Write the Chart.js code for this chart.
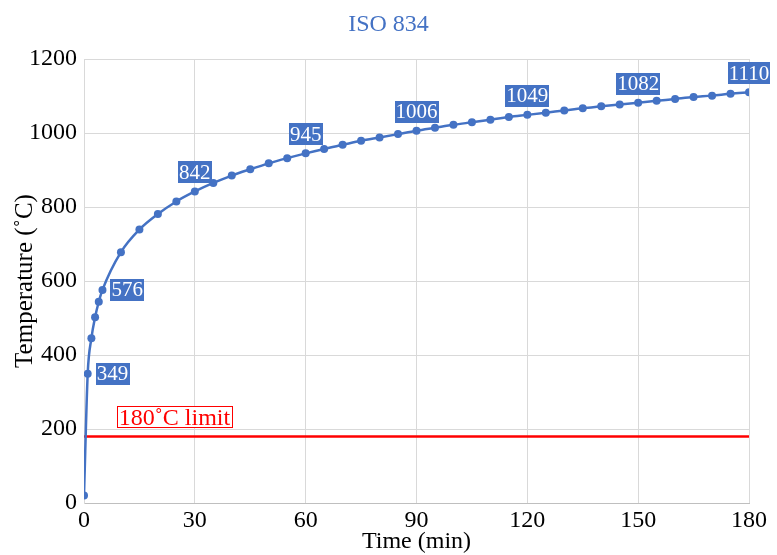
<!DOCTYPE html>
<html>
<head>
<meta charset="utf-8">
<style>
  html, body { margin: 0; padding: 0; background: #ffffff; }
  #wrap { width: 777px; height: 555px; }
</style>
<script src="https://cdn.jsdelivr.net/npm/chart.js@4/dist/chart.umd.min.js"></script>
</head>
<body>
<div id="wrap"><canvas id="chart" width="777" height="555"></canvas></div>
<script>
const chartTitle = "ISO 834";
const times = [0, 1, 2, 3, 4, 5, 10, 15, 20, 25, 30, 35, 40, 45, 50, 55, 60, 65, 70, 75, 80, 85, 90,
  95, 100, 105, 110, 115, 120, 125, 130, 135, 140, 145, 150, 155, 160, 165, 170, 175, 180];
const temps = [20, 349, 445, 502, 544, 576, 678, 739, 781, 815, 842, 865, 885, 902, 918, 932, 945, 957, 968, 979, 988, 997, 1006,
  1014, 1022, 1029, 1036, 1043, 1049, 1055, 1061, 1067, 1072, 1077, 1082, 1087, 1092, 1097, 1101, 1106, 1110];
const labelTimes = [1, 5, 30, 60, 90, 120, 150, 180];
const labelSide = ["right", "right", "top", "top", "top", "top", "top", "top"];
const limitValue = 180;
const limitText = "180˚C limit";
const limitLabelAt = 24.5;
const xTicks = [0, 30, 60, 90, 120, 150, 180];
const yTicks = [0, 200, 400, 600, 800, 1000, 1200];

const BLUE = "#4472c4";
const SERIF = "'Liberation Serif', 'DejaVu Serif', serif";

const labelsPlugin = {
  id: "isoLabels",
  afterDatasetsDraw(chart) {
    const ctx = chart.ctx;
    const xs = chart.scales.x;
    const ys = chart.scales.y;
    ctx.save();
    ctx.textBaseline = "middle";
    ctx.textAlign = "center";

    ctx.font = "21px " + SERIF;
    labelTimes.forEach((t, i) => {
      const idx = times.indexOf(t);
      const px = xs.getPixelForValue(t);
      const py = ys.getPixelForValue(temps[idx]);
      const text = String(temps[idx]);
      const w = ctx.measureText(text).width + 2;
      const h = 22;
      let cx, cy;
      if (labelSide[i] === "right") {
        cx = px + 8 + w / 2;
        cy = py;
      } else {
        cx = px;
        cy = py - 8 - h / 2;
      }
      ctx.fillStyle = BLUE;
      ctx.fillRect(Math.round(cx - w / 2), Math.round(cy - h / 2), Math.round(w), h);
      ctx.fillStyle = "#ffffff";
      ctx.fillText(text, cx, cy + 1);
    });

    // limit label
    ctx.font = "24px " + SERIF;
    const lx = xs.getPixelForValue(limitLabelAt);
    const ly = ys.getPixelForValue(limitValue) - 10 - 10;
    const lw = ctx.measureText(limitText).width + 4;
    const bx = Math.round(lx - lw / 2) + 0.5;
    const by = Math.round(ly - 10) + 0.5;
    ctx.fillStyle = "#ffffff";
    ctx.fillRect(bx, by, Math.round(lw), 21);
    ctx.strokeStyle = "#ff0000";
    ctx.lineWidth = 1;
    ctx.strokeRect(bx, by, Math.round(lw), 21);
    ctx.fillStyle = "#ff0000";
    ctx.fillText(limitText, lx, ly + 2);

    // title
    ctx.fillStyle = BLUE;
    ctx.fillText(chartTitle, chart.width / 2, 25);
    ctx.restore();
  }
};

new Chart(document.getElementById("chart"), {
  type: "line",
  data: {
    datasets: [
      {
        label: "ISO 834",
        data: times.map((t, i) => ({ x: t, y: temps[i] })),
        borderColor: BLUE,
        backgroundColor: BLUE,
        borderWidth: 2.5,
        pointRadius: 4,
        pointBorderWidth: 0,
        cubicInterpolationMode: "monotone",
        order: 1,
      },
      {
        label: limitText,
        data: [{ x: 0, y: limitValue }, { x: 180, y: limitValue }],
        borderColor: "#ff0000",
        borderWidth: 2.5,
        pointRadius: 0,
        order: 2,
      },
    ],
  },
  plugins: [labelsPlugin],
  options: {
    responsive: false,
    animation: false,
    layout: { padding: { top: 59, right: 28, left: 0, bottom: 0 } },
    plugins: {
      legend: { display: false },
      tooltip: { enabled: false },
    },
    scales: {
      x: {
        type: "linear",
        min: 0,
        max: 180,
        afterFit: (scale) => { scale.height = 52; },
        afterBuildTicks: (scale) => { scale.ticks = xTicks.map((v) => ({ value: v })); },
        grid: { color: "#d9d9d9", lineWidth: 1, drawTicks: false },
        border: { color: "#bfbfbf", width: 1 },
        ticks: { color: "#000000", padding: 3, font: { family: SERIF, size: 24 }, callback: (v) => String(v) },
        title: {
          display: true,
          text: "Time (min)",
          color: "#000000",
          padding: { top: 0, bottom: -1 },
          font: { family: SERIF, size: 24 },
        },
      },
      y: {
        min: 0,
        max: 1200,
        afterFit: (scale) => { scale.width = 84; },
        afterBuildTicks: (scale) => { scale.ticks = yTicks.map((v) => ({ value: v })); },
        grid: { color: "#d9d9d9", lineWidth: 1, drawTicks: false },
        border: { color: "#d9d9d9", width: 1 },
        ticks: { color: "#000000", padding: 7, font: { family: SERIF, size: 24 }, callback: (v) => String(v) },
        title: {
          display: true,
          text: "Temperature (˚C)",
          color: "#000000",
          padding: { top: 10, bottom: 0 },
          font: { family: SERIF, size: 25 },
        },
      },
    },
  },
});
</script>
</body>
</html>
